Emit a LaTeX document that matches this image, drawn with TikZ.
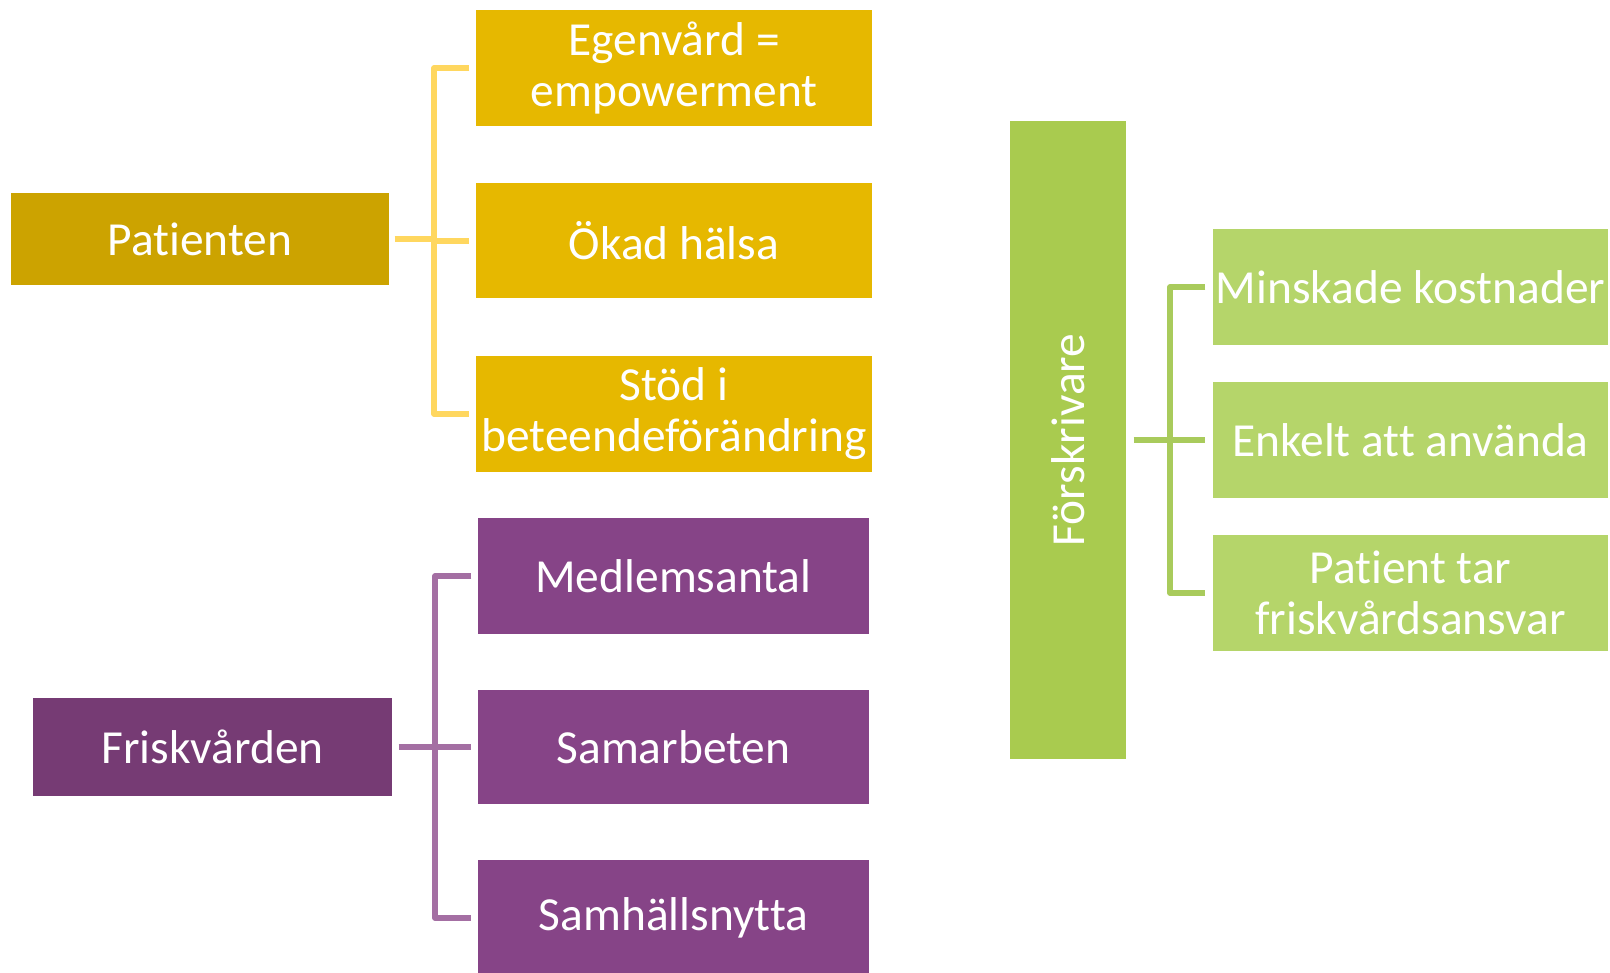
\documentclass[tikz,border=0pt]{standalone}
\usepackage{fontspec}
\setmainfont{Carlito}[Ligatures=CommonOff]
\usepackage{tikz}

\definecolor{patmain}{HTML}{CCA300}
\definecolor{patsub}{HTML}{E6B800}
\definecolor{patline}{HTML}{FFD75F}
\definecolor{frismain}{HTML}{763B74}
\definecolor{frissub}{HTML}{864487}
\definecolor{frisline}{HTML}{A46FA3}
\definecolor{forsmain}{HTML}{A9CB4F}
\definecolor{forssub}{HTML}{B5D56A}
\definecolor{forsline}{HTML}{A9CB5C}

\begin{document}
\begin{tikzpicture}[
	box/.style={shape=rectangle, text=white, inner sep=0pt, align=center,
		font=\fontsize{13.5}{14.5}\selectfont},
	link/.style={-, line width=1.6pt, line join=round}]
	\useasboundingbox (0,0) rectangle (16.10,9.73);
			% Patienten
			\node[box, fill=patmain, minimum width=3.78cm, minimum height=0.92cm] (pat) at (2.00,7.34) {Patienten};
			\node[box, fill=patsub, minimum width=3.96cm, minimum height=1.16cm] (ego) at (6.74,9.05) {Egenvård =\\empowerment};
			\node[box, fill=patsub, minimum width=3.96cm, minimum height=1.15cm] (okad) at (6.74,7.32) {Ökad hälsa};
			\node[box, fill=patsub, minimum width=3.96cm, minimum height=1.16cm] (stod) at (6.74,5.59) {Stöd i\\beteendeförändring};
			\coordinate (ytrunk) at (4.34,0);
			
			% Friskvården
			\node[box, fill=frismain, minimum width=3.59cm, minimum height=0.98cm] (fris) at (2.125,2.26) {Friskvården};
			\node[box, fill=frissub, minimum width=3.91cm, minimum height=1.16cm] (med) at (6.735,3.97) {Medlemsantal};
			\node[box, fill=frissub, minimum width=3.91cm, minimum height=1.14cm] (sam) at (6.735,2.26) {Samarbeten};
			\node[box, fill=frissub, minimum width=3.91cm, minimum height=1.16cm] (samh) at (6.735,0.55) {Samhällsnytta};
			\coordinate (ptrunk) at (4.35,0);
			
			% Förskrivare
			\node[box, fill=forsmain, rotate=90, minimum width=6.38cm, minimum height=1.16cm] (fors) at (10.68,5.33) {Förskrivare};
			\node[box, fill=forssub, minimum width=3.95cm, minimum height=1.16cm] (mins) at (14.105,6.86) {Minskade kostnader};
			\node[box, fill=forssub, minimum width=3.95cm, minimum height=1.16cm] (enk) at (14.105,5.33) {Enkelt att använda};
			\node[box, fill=forssub, minimum width=3.95cm, minimum height=1.16cm] (ptar) at (14.105,3.80) {Patient tar\\friskvårdsansvar};
			\coordinate (gtrunk) at (11.70,0);
			
			\path [link, patline, shorten <=0.05cm] (pat.east) edge (ytrunk |- pat.east);
			\draw [link, patline, shorten <=0.06cm, shorten >=0.06cm] (ego.west) -- (ytrunk |- ego.west) -- (ytrunk |- stod.west) -- (stod.west);
			\path [link, patline, shorten >=0.06cm] (ytrunk |- okad.west) edge (okad.west);
			
			\path [link, frisline, shorten <=0.06cm] (fris.east) edge (ptrunk |- fris.east);
			\draw [link, frisline, shorten <=0.06cm, shorten >=0.06cm] (med.west) -- (ptrunk |- med.west) -- (ptrunk |- samh.west) -- (samh.west);
			\path [link, frisline, shorten >=0.06cm] (ptrunk |- sam.west) edge (sam.west);
			
			\path [link, forsline, shorten <=0.07cm] (fors.south) edge (gtrunk |- fors.south);
			\draw [link, forsline, shorten <=0.07cm, shorten >=0.07cm] (mins.west) -- (gtrunk |- mins.west) -- (gtrunk |- ptar.west) -- (ptar.west);
			\path [link, forsline, shorten >=0.07cm] (gtrunk |- enk.west) edge (enk.west);
		\end{tikzpicture}
\end{document}
